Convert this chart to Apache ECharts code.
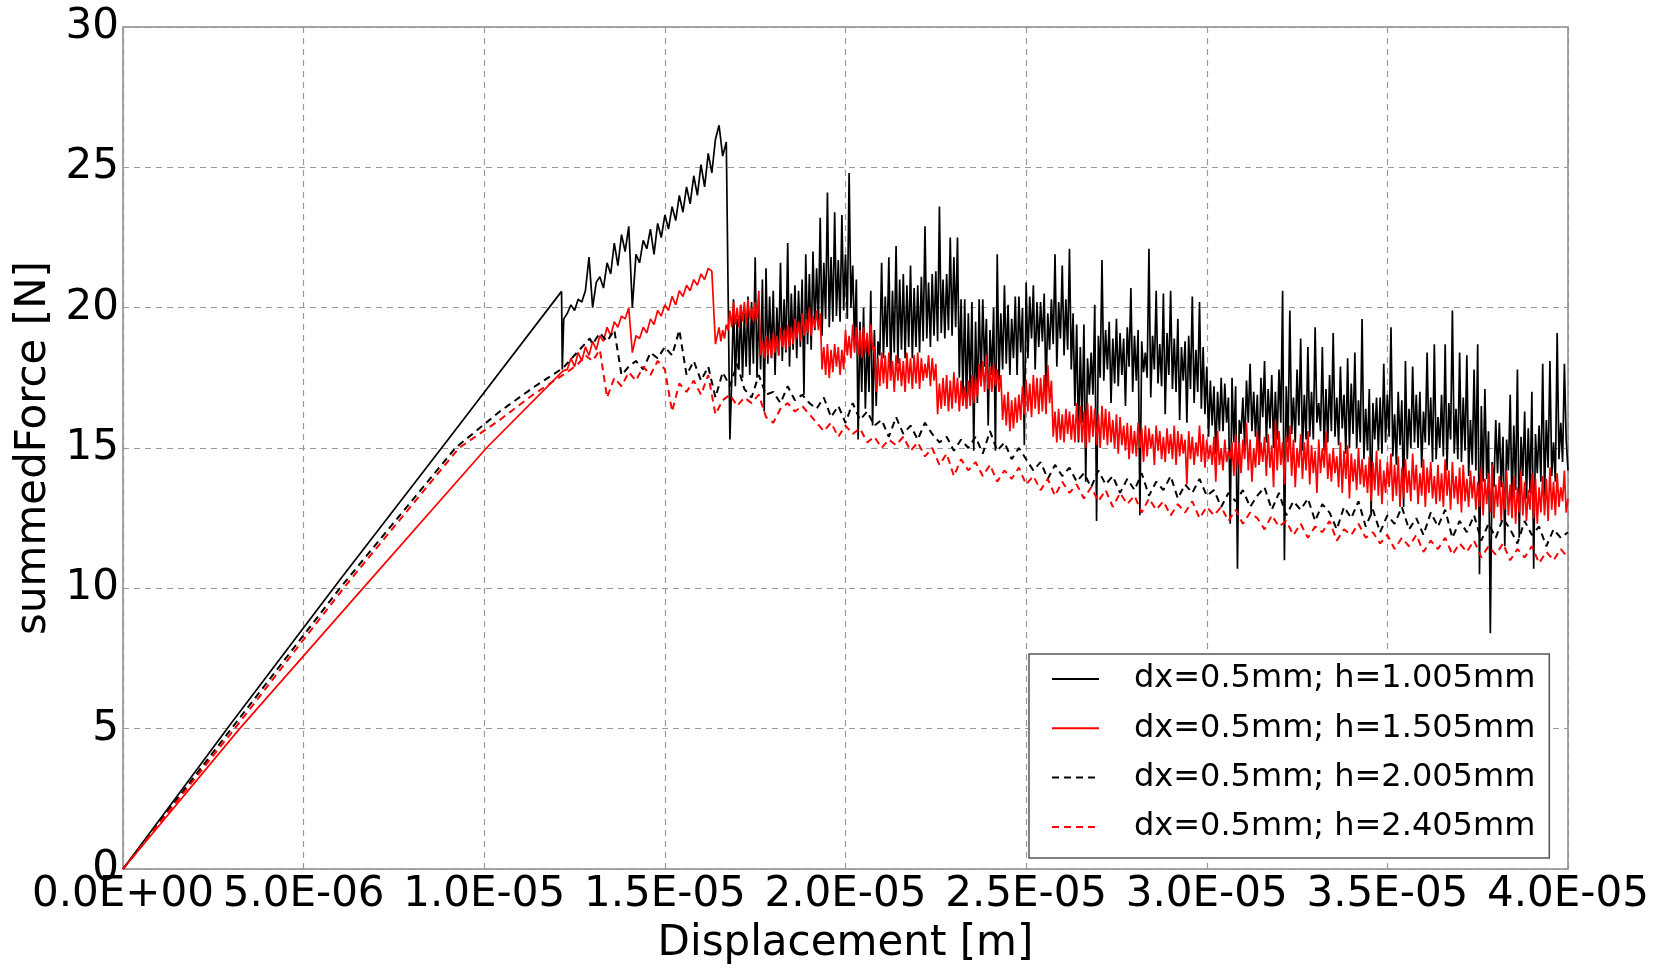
<!DOCTYPE html>
<html><head><meta charset="utf-8">
<script src="https://cdn.jsdelivr.net/npm/echarts@6/dist/echarts.min.js"></script>
<style>html,body{margin:0;padding:0;background:#fff}#c{width:1669px;height:970px}</style>
</head><body><div id="c"></div>
<script>
// x values are in micrometres (1e-6 m); labels show metres
const seriesNames = ['dx=0.5mm; h=1.005mm','dx=0.5mm; h=1.505mm','dx=0.5mm; h=2.005mm','dx=0.5mm; h=2.405mm'];
const xTicks = [0,5,10,15,20,25,30,35,40];
const yTicks = [0,5,10,15,20,25,30];

// ---- h = 1.005 mm (black solid)
const h1005Ramp = [[0,0],[3,5.2],[6,10.3],[9,15.3],[12.14,20.58],[12.16,17.8],[12.2,19.6]];
const h1005GridA = [12.3, 0.1];
const h1005A = [19.8,20.1,19.9,20.3,20.2,20.6,21.8,
 20.0,20.9,21.1,20.7,21.6,21.2,22.3,21.5,22.6,22.0,
 22.9,20.0,21.9,21.6,22.4,22.1,22.8,21.9,23.0,22.5,
 23.3,22.8,23.6,23.1,24.0,23.4,24.3,23.7,24.7,24.0,
 25.1,24.3,25.5,24.8,26.0,26.5,25.4,25.9];
// upper readings of the noisy band (every 0.1 um from 16.8)
const h1005TopGrid = [16.8, 0.1];
const h1005Top = [
 15.3,20.3,19.6,20.1,19.8,20.4,20.2,21.8,20.0,21.0,
 21.4,20.4,20.6,20.0,21.6,20.3,22.3,20.5,20.8,20.6,
 21.0,21.9,21.2,22.0,21.4,23.2,21.6,24.1,21.8,23.4,
 21.7,23.3,21.9,24.8,21.5,21.0,19.5,20.0,18.9,20.6,
 19.2,18.8,21.6,20.4,21.8,20.6,22.2,21.0,21.2,20.8,
 21.5,20.7,20.8,21.1,22.9,20.9,21.2,21.3,23.6,21.0,
 21.2,22.5,21.8,22.5,20.3,20.3,19.8,20.2,19.5,20.3,
 20.3,19.6,19.2,20.0,21.9,19.8,20.8,20.1,19.6,20.4,
 20.4,20.0,20.9,20.4,20.8,20.2,20.2,20.5,19.8,20.3,
 21.9,20.2,21.5,20.3,22.1,19.8,19.4,18.6,19.4,18.2,
 18.4,20.1,19.0,21.7,19.2,19.5,18.9,19.6,19.1,18.9,
 19.3,20.7,19.0,19.2,18.8,18.4,22.1,19.0,20.6,18.7,
 20.5,19.1,20.6,18.9,19.6,18.6,18.8,19.0,20.4,18.5,
 20.2,18.6,17.9,17.4,17.2,17.0,17.5,17.3,16.8,17.5,
 17.2,16.0,16.8,17.4,18.0,17.0,16.9,17.5,18.1,17.1,
 17.6,17.0,17.8,20.6,17.2,19.9,16.8,17.8,18.9,16.9,
 18.6,17.0,19.3,16.6,18.6,17.1,17.6,19.1,16.8,17.9,
 16.9,18.2,17.3,18.4,16.7,19.6,16.4,17.1,16.6,16.8,
 16.8,18.0,16.9,19.3,16.2,17.0,16.7,18.1,16.4,17.9,
 16.9,17.0,16.3,18.4,16.8,18.7,16.1,16.9,18.7,16.6,
 19.9,16.4,18.4,16.8,18.3,16.0,17.8,18.7,16.5,17.1,
 15.6,14.5,16.0,15.9,15.4,15.3,16.9,15.8,17.8,15.4,
 16.3,15.7,17.0,15.5,15.8,18.0,16.0,18.1,15.2,19.1,
 15.9,18.0,14.2];
// lower readings of the noisy band (every 0.1 um from 16.85)
const h1005BotGrid = [16.85, 0.1];
const h1005Bot = [
 17.4,17.2,17.8,17.5,17.9,17.6,18.0,17.5,17.8,16.3,
 18.0,18.2,17.6,18.3,18.1,18.4,17.9,18.5,18.2,18.6,
 16.9,18.7,18.5,19.2,19.4,19.0,19.6,19.3,19.5,19.7,
 19.5,19.9,19.6,20.0,18.7,15.3,17.0,16.4,17.0,15.8,
 16.5,18.3,18.2,18.6,17.7,18.4,18.0,18.5,18.2,18.6,
 18.2,18.6,18.4,18.8,18.9,18.6,19.0,18.8,19.1,18.9,
 19.2,19.0,19.3,17.5,16.8,16.4,17.0,14.9,16.6,17.2,
 17.9,15.8,17.6,14.9,17.4,17.8,18.0,17.6,18.2,17.6,
 18.4,15.1,18.2,18.9,17.8,18.6,18.8,17.0,18.5,18.7,
 17.9,18.9,18.3,18.5,17.8,16.5,15.2,15.9,13.8,16.9,
 16.9,12.4,17.5,17.4,17.8,16.6,17.3,17.2,17.6,16.5,
 17.9,17.0,17.4,12.6,17.7,17.5,16.8,17.8,17.3,17.2,
 16.2,17.6,17.1,17.0,16.0,17.4,15.9,17.1,16.6,17.0,
 16.4,16.2,15.4,15.8,14.8,15.6,15.6,15.9,12.3,15.2,
 10.7,15.5,15.0,15.9,15.6,15.4,14.4,16.1,15.2,15.7,
 15.0,15.3,15.9,11.0,15.2,15.5,15.2,15.8,14.9,15.3,
 15.4,15.3,15.9,15.6,14.9,15.2,15.6,15.4,15.1,15.7,
 14.8,15.0,15.5,15.0,15.2,14.6,14.9,12.6,15.3,14.9,
 14.8,15.2,15.4,14.7,14.4,15.1,12.9,14.6,15.0,15.2,
 15.0,14.3,15.2,15.1,14.5,14.6,15.0,14.7,14.2,15.3,
 14.8,14.6,14.5,14.9,14.0,14.4,14.2,10.5,13.8,13.9,
 8.4,13.6,14.1,13.6,11.5,14.2,12.9,13.5,11.8,14.0,
 13.2,13.4,10.7,14.1,13.8,13.3,14.3,14.0,13.8,14.6,
 14.5,15.3];

// ---- h = 1.505 mm (red solid)
const h1505Ramp = [[0,0],[3.23,5],[6.64,10],[10.06,15],[12.18,17.75]];
const h1505GridA = [12.3, 0.1];
const h1505A = [17.8,18.2,17.9,18.4,18.1,18.6,18.3,
 18.8,18.5,19.0,18.8,19.3,19.0,19.5,19.3,19.7,19.6,
 20.0,18.4,19.0,18.9,19.3,19.1,19.6,19.4,19.9,19.7,
 20.1,19.9,20.4,20.1,20.6,20.4,20.8,20.6,21.0,20.8,
 21.2,21.0,21.4,21.3];
const h1505TopGrid = [16.4, 0.1];
const h1505Top = [
 18.7,19.3,19.2,19.4,19.9,20.2,20.0,20.1,20.2,20.3,
 20.0,20.2,20.6,18.8,19.0,18.9,19.1,19.0,19.3,19.2,
 19.4,19.3,19.6,19.5,19.8,19.6,20.0,19.7,19.9,19.8,
 18.6,18.7,18.5,18.7,18.6,18.5,19.2,19.0,19.4,19.3,
 19.2,19.3,19.1,19.4,18.6,18.2,18.4,18.3,18.4,18.1,
 18.3,18.2,18.1,18.4,18.2,18.3,18.4,18.2,18.0,18.3,
 18.2,18.0,17.3,17.5,17.6,17.4,17.7,17.5,17.4,17.2,
 17.4,17.6,17.5,18.0,18.1,18.3,17.9,18.0,17.8,17.6,
 16.9,17.0,16.7,16.8,16.9,17.2,17.4,17.3,17.6,17.5,
 17.5,17.6,17.96,17.4,16.3,16.4,16.2,16.4,16.3,16.2,
 16.6,16.5,16.3,16.6,16.5,16.4,16.2,16.5,16.4,16.3,
 16.0,16.2,16.1,15.8,15.9,15.8,15.6,15.9,15.7,15.8,
 15.7,15.5,15.8,15.6,15.4,15.7,15.5,15.8,15.6,15.5,
 15.3,15.6,15.4,15.2,15.8,15.5,15.3,15.1,15.4,15.6,
 15.0,15.3,14.9,15.2,15.5,15.2,15.3,15.9,15.3,15.0,
 15.6,15.2,15.4,15.5,15.1,16.0,15.6,15.2,15.4,15.8,
 15.3,15.0,15.5,15.2,15.6,15.1,14.9,15.3,15.0,15.6,
 14.8,15.0,14.7,15.2,14.9,15.1,14.8,14.6,15.0,14.6,
 14.4,14.7,14.5,14.9,14.6,14.2,14.5,14.8,14.4,14.7,
 14.3,14.6,14.2,14.8,14.4,14.1,14.6,14.3,14.5,14.0,
 14.4,14.1,14.6,14.2,14.5,14.0,14.3,14.4,13.9,14.2,
 14.0,13.8,14.3,13.9,14.1,14.4,13.7,14.0,13.8,14.2,
 13.7,14.0,13.6,14.2,13.8,13.5,14.1,13.9,13.6,14.0,
 13.9,14.3,13.8,14.1,13.6,14.2,13.2];
const h1505BotGrid = [16.45, 0.1];
const h1505Bot = [
 18.7,18.8,18.9,19.2,19.3,19.4,19.3,19.5,19.4,19.6,
 19.5,19.6,18.3,18.2,18.3,18.2,18.4,18.3,18.6,18.5,
 18.6,18.7,18.9,18.8,19.0,19.1,19.0,19.3,19.2,17.8,
 17.6,17.5,17.7,17.9,17.6,17.8,18.3,18.2,18.4,18.3,
 18.2,18.4,18.3,18.5,17.0,17.2,17.3,17.1,17.4,17.0,
 17.4,17.2,17.0,17.3,17.1,17.3,17.1,17.4,17.5,17.2,
 17.4,16.2,16.4,16.5,16.3,16.4,16.6,16.3,16.5,16.4,
 16.5,16.6,16.8,17.2,17.0,17.1,17.0,17.2,17.0,16.0,
 15.8,15.6,15.7,15.9,16.0,16.2,16.3,16.1,16.4,16.2,
 16.3,16.2,16.6,15.4,15.2,15.3,15.2,15.5,15.3,15.2,
 15.3,15.2,15.0,15.2,15.4,15.1,15.0,15.3,15.1,15.2,
 15.0,14.8,15.1,14.9,14.6,14.8,14.7,15.0,14.5,14.7,
 15.0,14.4,14.9,14.6,14.5,14.8,14.6,14.4,14.7,14.8,
 13.7,14.6,14.4,14.7,14.5,14.3,14.6,14.4,13.8,14.4,
 14.2,14.5,14.6,14.0,14.3,14.1,14.6,14.2,13.8,14.3,
 14.4,14.5,14.0,14.3,13.6,14.2,14.4,13.7,14.5,14.0,
 13.6,14.3,13.9,14.2,13.7,14.1,13.4,14.1,14.3,13.9,
 13.8,14.1,13.6,13.4,13.9,13.2,13.8,13.5,13.7,13.6,
 13.4,13.1,13.5,13.3,13.0,13.4,13.6,13.1,13.3,12.9,
 13.2,13.4,13.1,13.5,13.0,13.3,12.9,13.4,13.2,13.0,
 13.1,12.9,13.3,12.8,13.2,13.0,12.7,13.1,12.9,13.2,
 12.8,12.9,12.6,13.0,12.7,12.5,12.9,12.4,12.8,12.6,
 12.5,12.3,12.7,12.6,12.4,12.8,12.5,12.3,12.7,12.6,
 12.4,12.8,12.6,12.9,13.1,12.7];

// ---- h = 2.005 mm (black dashed)
const h2005Ramp = [[0,0],[3,5],[6,10],[9.2,15],[10.43,16.3],[11.35,17.15],[12.18,17.85],[12.92,18.9]];
const h2005Grid = [13.0, 0.2];
const h2005 = [
 18.7,19.1,18.8,19.2,17.6, 17.9,18.1,17.8,18.4,18.2,
 18.6,18.3,19.2,17.6,18.1, 17.4,17.9,16.8,17.7,17.2,
 18.0,17.1,16.8,17.6,16.9, 17.0,16.6,17.2,16.7,16.9,
 16.6,16.4,16.8,16.1,16.5, 15.9,16.6,16.0,16.3,15.8,
 16.0,15.4,16.1,15.5,15.8, 15.3,15.9,15.5,15.2,15.4,
 14.9,15.3,15.0,15.4,14.8, 15.6,14.9,15.2,14.6,15.0,
 14.6,14.2,14.5,13.9,14.4, 14.0,14.3,13.8,14.1,13.6,
 14.2,13.7,14.0,13.4,13.9, 13.5,14.1,13.3,13.8,13.5,
 14.0,13.2,13.7,13.4,13.9, 13.3,13.5,12.9,13.4,13.1,
 13.5,12.9,13.3,13.6,12.8, 13.4,12.6,13.1,12.8,13.2,
 12.4,13.0,12.7,12.1,12.9, 12.5,13.1,12.2,12.8,12.0,
 12.6,12.3,12.9,12.1,12.5, 11.9,12.7,12.2,12.8,11.8,
 12.4,12.0,12.6,11.7,12.3, 11.8,12.5,12.1,11.6,12.4,
 11.9,12.2,11.5,12.1,11.8, 12.0];

// ---- h = 2.405 mm (red dashed)
const h2405Ramp = [[0,0],[3.09,5],[6.1,10],[9.3,15],[10.43,16.0],[11.35,16.9],[12.18,17.6]];
const h2405Grid = [12.4, 0.2];
const h2405 = [
 17.8,18.0,18.3,18.1,18.5, 16.8,17.5,17.2,17.7,17.4,
 17.9,17.6,18.1,17.8,16.3, 17.3,17.0,17.4,16.9,17.6,
 16.2,16.7,16.9,16.5,16.8, 16.6,16.9,16.1,15.9,16.4,
 16.6,16.3,16.5,16.2,15.9, 15.6,15.9,15.4,15.8,15.5,
 15.7,15.2,15.4,15.0,15.3, 15.1,15.4,14.9,15.2,14.7,
 15.0,14.4,14.8,14.0,14.6, 14.2,14.5,14.0,14.4,13.8,
 14.2,13.9,14.3,13.7,14.0, 13.5,13.9,13.3,13.8,13.4,
 13.7,13.2,13.6,13.1,13.5, 12.9,13.4,13.0,13.3,12.7,
 13.2,12.8,13.1,12.6,13.0, 12.7,13.1,12.5,12.9,12.6,
 12.9,12.4,12.8,12.3,12.7, 12.5,12.1,12.6,12.2,12.4,
 11.9,12.3,11.8,12.2,12.0, 12.4,11.7,12.1,11.9,12.3,
 11.8,12.0,11.6,11.9,11.4, 11.8,11.5,11.9,11.3,11.7,
 11.4,11.8,11.2,11.6,11.3, 11.7,11.1,11.5,11.2,11.6,
 11.0,11.4,11.1,11.5,10.9, 11.3,11.0,11.4,11.1];

function build(ramp, segs) {
  const out = ramp.map(p => p.slice());
  segs.forEach(([grid, ys]) => {
    ys.forEach((y, i) => out.push([+(grid[0] + i * grid[1]).toFixed(3), y]));
  });
  out.sort((a, b) => a[0] - b[0]);
  return out;
}
const data1 = build(h1005Ramp, [[h1005GridA, h1005A], [h1005TopGrid, h1005Top], [h1005BotGrid, h1005Bot]]);
const data2 = build(h1505Ramp, [[h1505GridA, h1505A], [h1505TopGrid, h1505Top], [h1505BotGrid, h1505Bot]]);
const data3 = build(h2005Ramp, [[h2005Grid, h2005]]);
const data4 = build(h2405Ramp, [[h2405Grid, h2405]]);

function fmtX(v) {
  if (v === 0) return '0.0E+00';
  const s = (v * 1e-6).toExponential(1);
  const [m, e] = s.split('e');
  const n = parseInt(e, 10);
  return m + 'E' + (n < 0 ? '-' : '+') + String(Math.abs(n)).padStart(2, '0');
}

const FONT = 'DejaVu Sans';
const chart = echarts.init(document.getElementById('c'), null, {renderer: 'canvas'});
const mk = (name, data, color, dashed) => ({
  name, type: 'line', data, symbol: 'none', showSymbol: false, animation: false, silent: true,
  lineStyle: {color, width: dashed ? 2 : 1.7, type: dashed ? [7, 5] : 'solid'},
  itemStyle: {color}
});
chart.setOption({
  backgroundColor: '#fff',
  animation: false,
  textStyle: {fontFamily: FONT},
  grid: {left: 123, top: 27, right: 101, bottom: 96, show: true, borderColor: '#888', borderWidth: 1.5, backgroundColor: 'transparent'},
  xAxis: {
    type: 'value', min: xTicks[0], max: xTicks[xTicks.length - 1], interval: 5,
    name: 'Displacement [m]', nameLocation: 'middle', nameGap: 54,
    nameTextStyle: {fontSize: 42, color: '#000', fontFamily: FONT},
    axisLine: {show: false}, axisTick: {show: false},
    axisLabel: {fontSize: 42, color: '#000', margin: 5, fontFamily: FONT, formatter: fmtX, showMinLabel: true, showMaxLabel: true},
    splitLine: {show: true, lineStyle: {color: '#999', width: 1.2, type: [6, 5]}}
  },
  yAxis: {
    type: 'value', min: yTicks[0], max: yTicks[yTicks.length - 1], interval: 5,
    name: 'summedForce [N]', nameLocation: 'middle', nameGap: 50,
    nameTextStyle: {fontSize: 42, color: '#000', fontFamily: FONT},
    axisLine: {show: false}, axisTick: {show: false},
    axisLabel: {fontSize: 42, color: '#000', margin: 4, fontFamily: FONT, showMinLabel: true, showMaxLabel: true},
    splitLine: {show: true, lineStyle: {color: '#999', width: 1.2, type: [6, 5]}}
  },
  legend: {
    orient: 'vertical', left: 1029, top: 654,
    padding: [9, 14, 15, 22], itemGap: 17.3, itemWidth: 47, itemHeight: 14,
    backgroundColor: '#fff', borderColor: '#555', borderWidth: 1.5,
    itemStyle: {opacity: 0},
    textStyle: {fontSize: 32, color: '#000', fontFamily: FONT, lineHeight: 32, padding: [0, 0, 0, 30]},
    data: seriesNames, selectedMode: false
  },
  series: [
    mk(seriesNames[0], data1, '#000', false),
    mk(seriesNames[1], data2, '#ff0000', false),
    mk(seriesNames[2], data3, '#000', true),
    mk(seriesNames[3], data4, '#ff0000', true)
  ]
});
</script></body></html>
